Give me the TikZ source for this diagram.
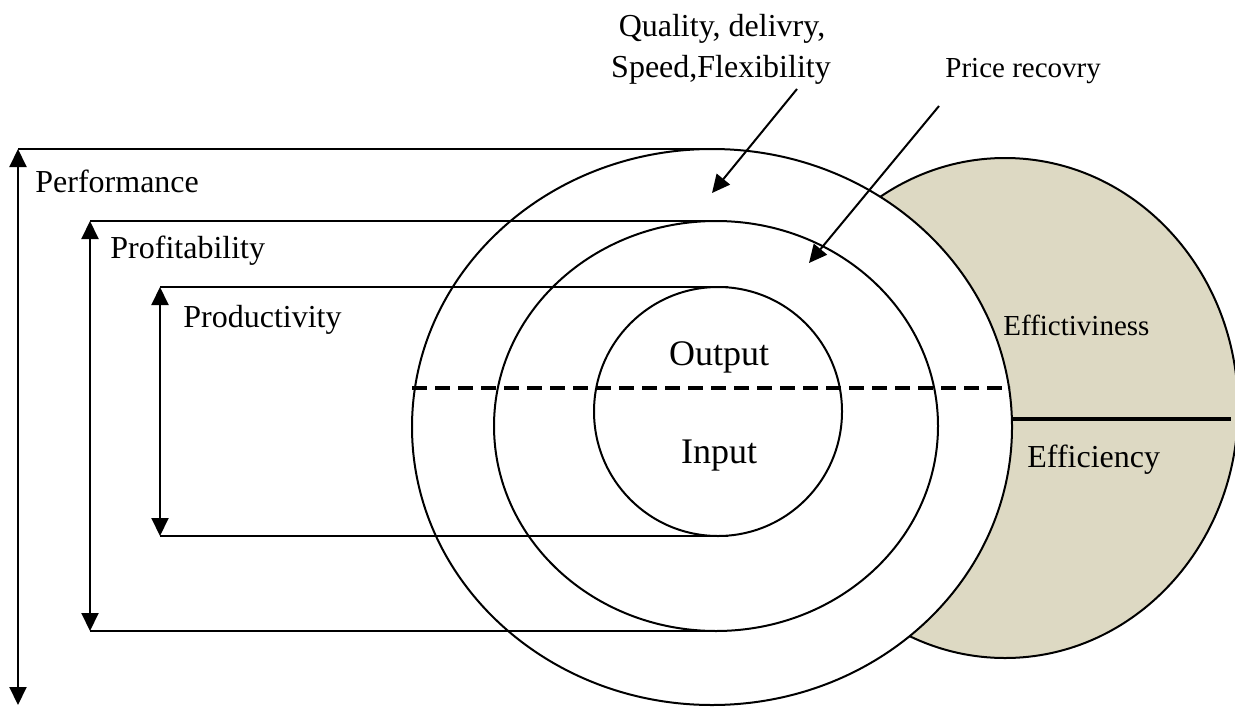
\documentclass[tikz,border=0pt]{standalone}
\usepackage{fontspec}
\setmainfont{Liberation Serif}
\usetikzlibrary{arrows.meta,shapes.geometric}
\definecolor{tanfill}{HTML}{DDD9C3}
\begin{document}
\begin{tikzpicture}[x=0.5pt,y=-0.5pt,
  ring/.style={draw, ellipse, inner sep=0pt, outer sep=0pt, line width=1pt, fill=white},
  guide/.style={line width=1pt},
  span/.style={line width=1pt, {Triangle[width=8.5pt,length=9pt]}-{Triangle[width=8.5pt,length=9pt]}},
  pointer/.style={line width=1pt, -{Triangle[width=8.5pt,length=9pt]}},
  lbl/.style={inner sep=0pt, anchor=base west, font=\fontsize{16}{19}\selectfont},
  small/.style={inner sep=0pt, anchor=base west, font=\fontsize{14.5}{17}\selectfont},
  big/.style={inner sep=0pt, anchor=base, font=\fontsize{18}{22}\selectfont},
]
\useasboundingbox (0,0) rectangle (1235,706);
\clip (0,0) rectangle (1235,706);

% shaded effectiveness / efficiency region behind the rings
\node[ring, fill=tanfill, minimum width=233pt, minimum height=250pt] (eff) at (1005,408) {};

% nested rings: performance, profitability, productivity
\node[ring, minimum width=300pt, minimum height=278pt] (perf) at (712,427) {};
\node[ring, minimum width=222pt, minimum height=205pt] (prof) at (716,426) {};
\node[ring, minimum width=124pt, minimum height=124.5pt] (prod) at (718,411.5) {};

% end points of the measuring arrows
\coordinate (perfT) at (18,149);
\coordinate (perfB) at (18,705);
\coordinate (profT) at (90,221);
\coordinate (profB) at (90,631);
\coordinate (prodT) at (160,287);
\coordinate (prodB) at (160,536);

% guide lines to the ring tops and bottoms
\draw[guide] (perfT) -- ([xshift=4pt]perf.north);
\draw[guide] (profT) -- ([xshift=1pt]prof.north);
\draw[guide] (profB) -- (prof.south);
\draw[guide] (prodT) -- ([xshift=5pt]prod.north);
\draw[guide] (prodB) -- ([xshift=5pt]prod.south);

% double-headed span arrows
\draw[span] (perfT) -- (perfB);
\draw[span] (profT) -- (profB);
\draw[span] (prodT) -- (prodB);

% output / input divider and effectiveness / efficiency divider
\coordinate (dashL) at (412,388);
\coordinate (dashR) at (1010,388);
\draw[line width=1.75pt, dash pattern=on 7.5pt off 4pt] (dashL) -- (dashR);
\coordinate (solidL) at (1012,419);
\coordinate (solidR) at (1231,419);
\draw[line width=1.75pt] (solidL) -- (solidR);

% labels
\node[lbl] (tperf) at (35,192) {Performance};
\node[lbl] (tprof) at (110,258) {Profitability};
\node[lbl] (tprod) at (183,327) {Productivity};
\node[big] (tout) at (719,365) {Output};
\node[big] (tin) at (719,463) {Input};
\node[small] (teff) at (1003,335) {Effictiviness};
\node[lbl] (tefc) at (1027,467) {Efficiency};
\node[small] (tprice) at (945,77) {Price recovry};
\node[lbl, anchor=base] (tqual1) at (722,37) {Quality, delivry,};
\node[lbl, anchor=base] (tqual2) at (721,78) {Speed,Flexibility};

% pointer arrows into the rings
\coordinate (qualFrom) at (797,89);
\coordinate (qualTo) at (712,193);
\coordinate (priceFrom) at (939,106);
\coordinate (priceTo) at (809,263);
\draw[pointer] (qualFrom) -- (qualTo);
\draw[pointer] (priceFrom) -- (priceTo);
\end{tikzpicture}
\end{document}
